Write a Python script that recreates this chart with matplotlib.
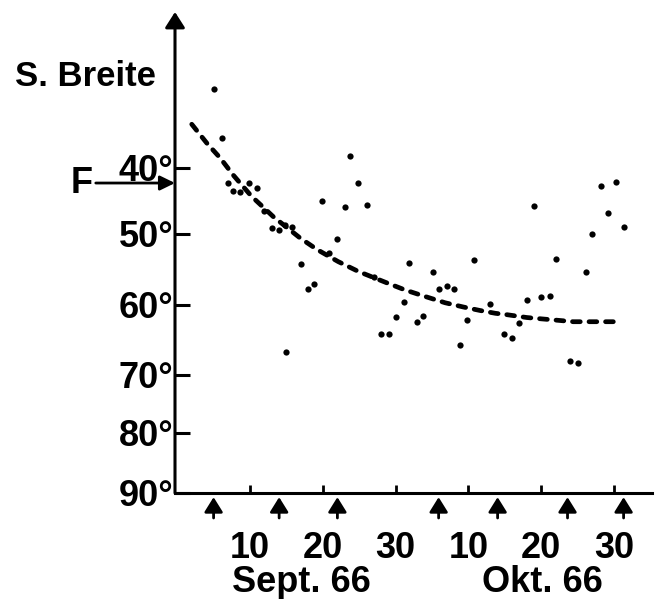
import numpy as np
import matplotlib
matplotlib.use("Agg")
import matplotlib.pyplot as plt
from matplotlib.ticker import NullLocator

plt.rcParams['font.family'] = ['Liberation Sans', 'DejaVu Sans']
plt.rcParams['font.weight'] = 'bold'

# observed southern latitude per day (day 1 = 1 Sept 1966, day 31 = 1 Oct)
obs_day = [5.1, 6.1, 7.0, 7.6, 8.6, 9.8, 10.9, 11.9, 13.0, 14.0, 14.8, 15.0,
           15.8, 17.0, 17.9, 18.8, 19.9, 20.9, 22.0, 23.0, 23.7, 24.8, 26.0,
           27.0, 28.0, 29.1, 30.1, 31.2, 31.9, 32.9, 33.8, 35.1, 36.0, 37.0,
           38.0, 38.9, 39.8, 40.8, 42.9, 44.9, 46.0, 46.9, 48.0, 49.0, 50.0,
           51.2, 52.0, 53.9, 55.1, 56.1, 56.9, 58.2, 59.1, 60.2, 61.3]
obs_lat = [28.0, 35.5, 42.3, 43.5, 43.7, 42.3, 43.1, 46.5, 49.1, 49.4, 48.7, 66.7,
           49.0, 54.3, 57.8, 57.0, 45.0, 52.7, 50.7, 45.9, 38.2, 42.3, 45.7,
           56.1, 64.2, 64.2, 61.7, 59.6, 54.1, 62.5, 61.6, 55.4, 57.7, 57.4,
           57.7, 65.7, 62.2, 53.7, 59.9, 64.1, 64.7, 62.6, 59.3, 45.8, 58.9,
           58.7, 53.5, 68.0, 68.3, 55.4, 50.0, 42.7, 46.9, 42.2, 49.0]

# smoothed trend
trend_day = [2.0, 4.1, 5.9, 7.7, 10.2, 13.2, 16.9, 19.2, 22.1, 24.9, 28.8, 31.3,
             34.0, 36.8, 39.3, 41.6, 43.7, 45.3, 48.0, 50.1, 52.3, 54.4, 56.5, 59.9]
trend_lat = [33.4, 36.3, 38.5, 41.1, 44.3, 47.4, 50.6, 52.2, 53.9, 55.3, 56.9, 57.9,
             58.8, 59.7, 60.3, 60.8, 61.2, 61.4, 61.8, 62.0, 62.2, 62.4, 62.4, 62.4]

# marked dates below the time axis
event_day = [5.0, 14.0, 22.0, 35.9, 44.0, 53.6, 61.3]

lat_ticks = [40, 50, 60, 70, 80, 90]
lat_labels = ['40°', '50°', '60°', '70°', '80°', '90°']
day_ticks = [10, 20, 30, 40, 50, 60]
day_labels = ['10', '20', '30', '10', '20', '30']
f_lat = 42.3

# the latitude axis was drawn by hand, spacing between the ticks is uneven
lat_ref = [0, 40, 50, 60, 70, 80, 90, 100]
pos_ref = [-96, 168, 234, 305, 375, 433, 493, 553]


def lat_fwd(v):
    return np.interp(v, lat_ref, pos_ref)


def lat_inv(v):
    return np.interp(v, pos_ref, lat_ref)


fig = plt.figure(figsize=(6.6, 5.99), dpi=100)
ax = fig.add_axes([175 / 660, 106 / 599, 477 / 660, 481 / 599])
ax.set_yscale('function', functions=(lat_fwd, lat_inv))

ax.plot(trend_day, trend_lat, color='k', lw=3.4, dashes=(1.65, 1.85),
        dash_capstyle='round')
ax.plot(obs_day, obs_lat, 'o', color='k', ms=4.5, mew=0)

ax.set_yticks(lat_ticks, labels=lat_labels)
ax.yaxis.set_minor_locator(NullLocator())
ax.set_xticks(day_ticks, labels=day_labels)
ax.set_xticks([30, 60], minor=True)
ax.tick_params(axis='y', direction='in', length=10.8, width=2.2, pad=1,
               labelsize=26)
ax.tick_params(axis='x', which='major', direction='in', length=5.8, width=2,
               pad=27, labelsize=26)
ax.tick_params(axis='x', which='minor', direction='in', length=10.5, width=2)

ax.set_xlim(-0.3, 65.2)
ax.set_ylim(90, 16.4)

for side in ['top', 'right', 'left']:
    ax.spines[side].set_visible(False)
ax.spines['bottom'].set_linewidth(2.2)

# vertical axis with arrow head
ax.annotate('', xy=(0, 1), xycoords='axes fraction', xytext=(0, 0),
            arrowprops=dict(arrowstyle='-|>,head_length=0.47,head_width=0.3',
                            mutation_scale=20, lw=2.2, color='k',
                            shrinkA=0, shrinkB=0))

# event arrows under the time axis
for d in event_day:
    ax.annotate('', xy=(d, 0), xycoords=ax.get_xaxis_transform(),
                xytext=(0, -25), textcoords='offset pixels',
                arrowprops=dict(arrowstyle='-|>,head_length=0.45,head_width=0.28',
                                mutation_scale=20, lw=2, color='k',
                                shrinkA=0, shrinkB=3))

# F marker
ax.annotate('F', xy=(0, f_lat), xycoords=('axes fraction', 'data'),
            xytext=(-93, 0), textcoords='offset pixels', fontsize=26,
            ha='center', va='center',
            arrowprops=dict(arrowstyle='-|>,head_length=0.45,head_width=0.22',
                            mutation_scale=20, lw=2, color='k',
                            shrinkA=0, shrinkB=0))

ax.annotate('Sept. 66', xy=(17.1, 0), xycoords=ax.get_xaxis_transform(),
            xytext=(0, -90), textcoords='offset pixels', fontsize=26,
            ha='center', va='center')
ax.annotate('Okt. 66', xy=(50.1, 0), xycoords=ax.get_xaxis_transform(),
            xytext=(0, -90), textcoords='offset pixels', fontsize=26,
            ha='center', va='center')

fig.text(15 / 660, 1 - 77 / 599, 'S. Breite', fontsize=25, ha='left',
         va='center')

fig.savefig('out.png', dpi=100, facecolor='white')
